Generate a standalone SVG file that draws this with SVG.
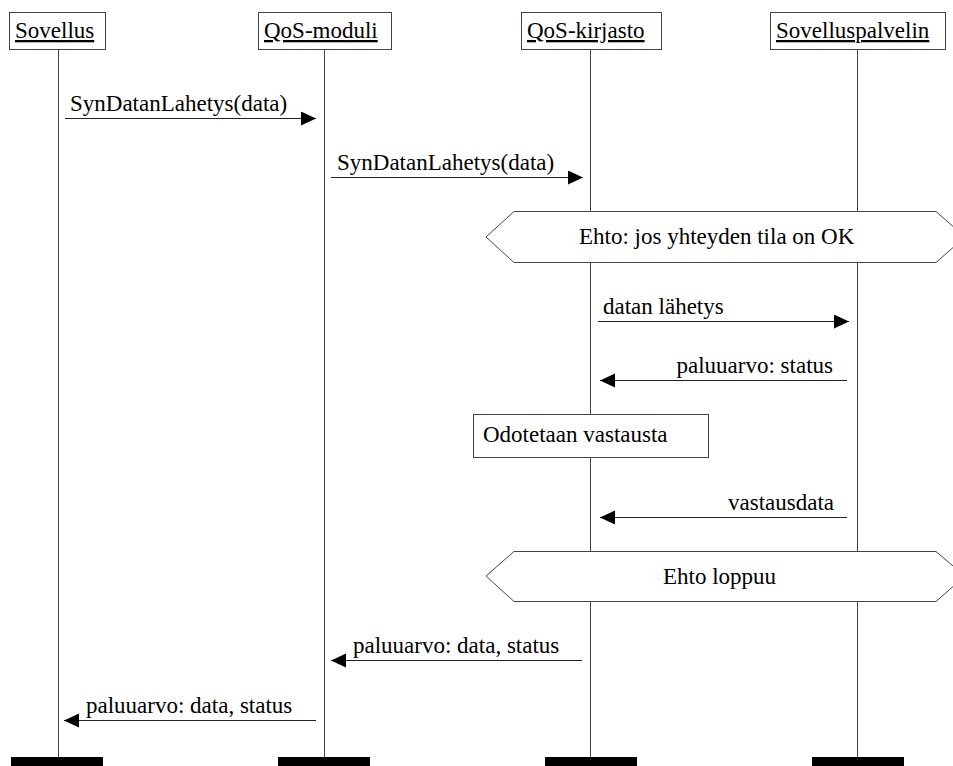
<svg xmlns="http://www.w3.org/2000/svg" width="953" height="766" viewBox="0 0 953 766">
  <style>
    text { font-family: "Times New Roman", Times, "Liberation Serif", "Nimbus Roman", serif; font-size: 23px; fill: #000; }
    .head { text-decoration: underline; }
    .box { fill: #fff; stroke: #444; stroke-width: 1; }
    .life { stroke: #444; stroke-width: 1; fill: none; }
    .bar { fill: #000; }
    .msg { stroke: #222; stroke-width: 1; fill: none; marker-end: url(#arrow); }
    .end { text-anchor: end; }
  </style>
  <defs>
    <marker id="arrow" markerUnits="userSpaceOnUse" markerWidth="16" markerHeight="15" refX="15" refY="7" orient="auto">
      <path d="M0,0 L15,7 L0,14 Z" fill="#000"/>
    </marker>
  </defs>

  <rect width="953" height="766" fill="#fff"/>

  <!-- participants: head box, lifeline, destruction bar -->
  <g id="sovellus">
    <line class="life" x1="58.5" y1="49.5" x2="58.5" y2="757"/>
    <rect class="box" x="9.5" y="12.5" width="96" height="37"/>
    <text class="head" x="15" y="38">Sovellus</text>
    <rect class="bar" x="11" y="757" width="92" height="9"/>
  </g>
  <g id="qos-moduli">
    <line class="life" x1="324.5" y1="49.5" x2="324.5" y2="757"/>
    <rect class="box" x="258.5" y="12.5" width="133" height="37"/>
    <text class="head" x="264" y="38">QoS-moduli</text>
    <rect class="bar" x="278" y="757" width="92" height="9"/>
  </g>
  <g id="qos-kirjasto">
    <line class="life" x1="590.5" y1="49.5" x2="590.5" y2="757"/>
    <rect class="box" x="521.5" y="12.5" width="140" height="37"/>
    <text class="head" x="527" y="38">QoS-kirjasto</text>
    <rect class="bar" x="545" y="757" width="92" height="9"/>
  </g>
  <g id="sovelluspalvelin">
    <line class="life" x1="857.5" y1="49.5" x2="857.5" y2="757"/>
    <rect class="box" x="770.5" y="12.5" width="175" height="37"/>
    <text class="head" x="776" y="38">Sovelluspalvelin</text>
    <rect class="bar" x="812" y="757" width="92" height="9"/>
  </g>

  <!-- condition and state markers -->
  <g id="ehto-alku">
    <polygon class="box" points="486,237 514,211.5 936,211.5 965,237 936,262.5 514,262.5"/>
    <text x="579" y="244">Ehto: jos yhteyden tila on OK</text>
  </g>
  <g id="odotetaan">
    <rect class="box" x="473.5" y="414.5" width="235" height="43"/>
    <text x="483" y="442">Odotetaan vastausta</text>
  </g>
  <g id="ehto-loppu">
    <polygon class="box" points="486,576 514,551.5 936,551.5 965,576 936,601.5 514,601.5"/>
    <text x="663" y="584">Ehto loppuu</text>
  </g>

  <!-- messages -->
  <g id="connectors">
    <line class="msg" x1="65" y1="118.5" x2="316" y2="118.5"/>
    <text x="70" y="111">SynDatanLahetys(data)</text>

    <line class="msg" x1="331" y1="177.5" x2="583" y2="177.5"/>
    <text x="337" y="170">SynDatanLahetys(data)</text>

    <line class="msg" x1="598" y1="321.5" x2="849" y2="321.5"/>
    <text x="603" y="314">datan lähetys</text>

    <line class="msg" x1="847" y1="380.5" x2="600" y2="380.5"/>
    <text class="end" x="833" y="373">paluuarvo: status</text>

    <line class="msg" x1="847" y1="517.5" x2="600" y2="517.5"/>
    <text class="end" x="834" y="510">vastausdata</text>

    <line class="msg" x1="582" y1="660.5" x2="331" y2="660.5"/>
    <text x="353" y="653">paluuarvo: data, status</text>

    <line class="msg" x1="316" y1="720.5" x2="64" y2="720.5"/>
    <text x="86" y="713">paluuarvo: data, status</text>
  </g>
</svg>
